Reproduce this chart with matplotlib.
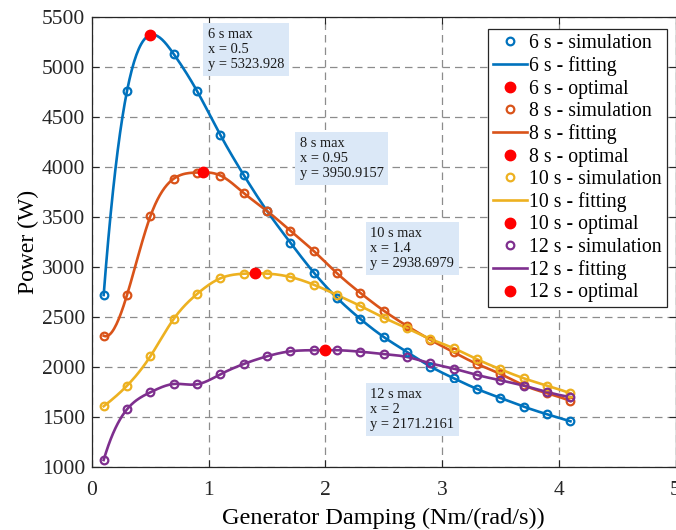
import numpy as np
import matplotlib
matplotlib.use('Agg')
import matplotlib.pyplot as plt

# generator damping values used in the simulations
damping = [0.1, 0.3, 0.5, 0.7, 0.9, 1.1, 1.3, 1.5, 1.7, 1.9, 2.1,
           2.3, 2.5, 2.7, 2.9, 3.1, 3.3, 3.5, 3.7, 3.9, 4.1]

# simulated power (W) for each wave period
p6 = [2720, 4760, 5320, 5130, 4760, 4320, 3920, 3560, 3243, 2945, 2690,
      2480, 2300, 2150, 2005, 1887, 1780, 1690, 1603, 1527, 1457]
p8 = [2313, 2720, 3507, 3883, 3945, 3915, 3740, 3560, 3363, 3160, 2937,
      2740, 2563, 2410, 2272, 2147, 2030, 1930, 1817, 1737, 1660]
p10 = [1607, 1813, 2107, 2480, 2730, 2887, 2933, 2934, 2900, 2823, 2720,
       2610, 2493, 2387, 2280, 2187, 2077, 1977, 1887, 1813, 1737]
p12 = [1070, 1577, 1747, 1830, 1827, 1927, 2030, 2107, 2157, 2168, 2168,
       2153, 2130, 2100, 2037, 1983, 1920, 1867, 1813, 1750, 1700]

periods = ['6 s', '8 s', '10 s', '12 s']
colors = ['#0072BD', '#D95319', '#EDB120', '#7E2F8E']

# optimum of each fitted curve
opt_x = [0.5, 0.95, 1.4, 2]
opt_y = [5323.928, 3950.9157, 2938.6979, 2171.2161]
opt_labels = ['5323.928', '3950.9157', '2938.6979', '2171.2161']
# where the data tip text starts (upper left corner, data units)
tip_x = [0.99, 1.78, 2.385, 2.385]
tip_y = [5390, 4300, 3400, 1795]


def spline(x, y, xs):
    """cubic spline with not-a-knot ends"""
    x = np.asarray(x, float)
    y = np.asarray(y, float)
    n = len(x)
    h = np.diff(x)
    A = np.zeros((n, n))
    b = np.zeros(n)
    A[0, 0], A[0, 1], A[0, 2] = h[1], -(h[0] + h[1]), h[0]
    A[-1, -3], A[-1, -2], A[-1, -1] = h[-1], -(h[-2] + h[-1]), h[-2]
    for i in range(1, n - 1):
        A[i, i - 1] = h[i - 1]
        A[i, i] = 2 * (h[i - 1] + h[i])
        A[i, i + 1] = h[i]
        b[i] = 6 * ((y[i + 1] - y[i]) / h[i] - (y[i] - y[i - 1]) / h[i - 1])
    M = np.linalg.solve(A, b)
    idx = np.clip(np.searchsorted(x, xs) - 1, 0, n - 2)
    x0, x1 = x[idx], x[idx + 1]
    hh = x1 - x0
    return (M[idx] * (x1 - xs) ** 3 / (6 * hh) + M[idx + 1] * (xs - x0) ** 3 / (6 * hh)
            + (y[idx] / hh - M[idx] * hh / 6) * (x1 - xs)
            + (y[idx + 1] / hh - M[idx + 1] * hh / 6) * (xs - x0))


plt.rcParams['font.family'] = ['Liberation Serif', 'DejaVu Serif']

fig = plt.figure(figsize=(6.76, 5.30), dpi=100)
ax = fig.add_axes([92 / 676, 63 / 530, 583.5 / 676, 450 / 530])

xs = np.linspace(damping[0], damping[-1], 400)
for i, p in enumerate([p6, p8, p10, p12]):
    c = colors[i]
    ax.plot(damping, p, 'o', mfc='none', mec=c, ms=5.5, mew=1.6,
            label=periods[i] + ' - simulation', zorder=4)
    ax.plot(xs, spline(damping, p, xs), '-', color=c, lw=1.9,
            label=periods[i] + ' - fitting', zorder=3)
    ax.plot(opt_x[i], opt_y[i], 'o', color='#FF0000', ms=7.5,
            label=periods[i] + ' - optimal', zorder=5)

for i in range(4):
    txt = '%s max\nx = %s\ny = %s' % (periods[i], opt_x[i], opt_labels[i])
    ax.text(tip_x[i], tip_y[i], txt, fontsize=10.4, va='top', ha='left',
            linespacing=1.22, color='#1a1a1a', zorder=6,
            bbox=dict(boxstyle='square,pad=0.32', fc='#dbe8f7', ec='none'))

ax.set_xlim(0, 5)
ax.set_ylim(1000, 5500)
ax.set_xticks([0, 1, 2, 3, 4, 5])
ax.set_yticks(np.arange(1000, 5501, 500))
ax.grid(True, linestyle=(0, (6, 4)), color='#8c8c8c', lw=0.9)
ax.tick_params(direction='in', top=True, right=True, labelsize=15.5,
               length=5, width=0.8, colors='#262626')
ax.tick_params(axis='x', pad=10)
ax.tick_params(axis='y', pad=5)
for s in ax.spines.values():
    s.set_color('#262626')
    s.set_linewidth(0.9)
ax.set_xlabel('Generator Damping (Nm/(rad/s))', fontsize=17.5, labelpad=6)
ax.set_ylabel('Power (W)', fontsize=17, labelpad=2)

leg = ax.legend(loc='upper right', bbox_to_anchor=(667 / 676, 1 - 29 / 530),
                bbox_transform=fig.transFigure, fontsize=14.2, frameon=True,
                fancybox=False, borderaxespad=0, handlelength=1.75,
                handletextpad=0.1, labelspacing=0.17, borderpad=0.25,
                framealpha=1)
leg.get_frame().set_edgecolor('#262626')
leg.get_frame().set_linewidth(0.9)

fig.savefig('out.png', dpi=100)
